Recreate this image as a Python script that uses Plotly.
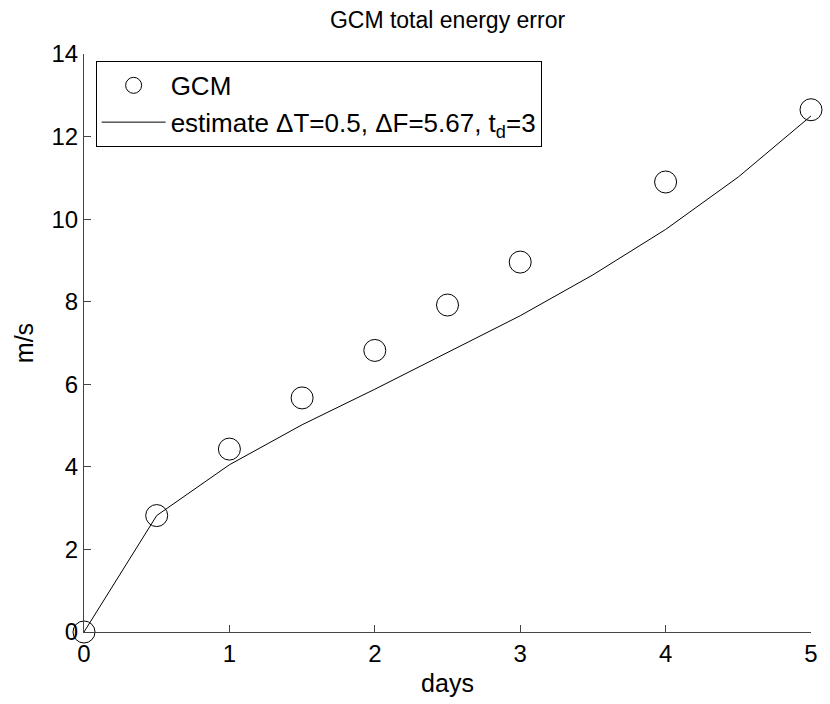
import plotly.graph_objects as go

gcm_days = [0, 0.5, 1, 1.5, 2, 2.5, 3, 4, 5]
gcm_vals = [0, 2.82, 4.43, 5.67, 6.82, 7.92, 8.96, 10.9, 12.65]

est_days = [0, 0.5, 1, 1.5, 2, 2.5, 3, 3.5, 4, 4.5, 5]
est_vals = [0, 2.82, 4.05, 5.02, 5.88, 6.77, 7.66, 8.65, 9.75, 11.02, 12.5]

x_ticks = [0, 1, 2, 3, 4, 5]
y_ticks = [0, 2, 4, 6, 8, 10, 12, 14]

FONT = "Liberation Sans, Arial, Helvetica, sans-serif"

fig = go.Figure()
fig.add_trace(go.Scatter(
    x=gcm_days, y=gcm_vals, mode="markers", name="GCM", cliponaxis=False,
    marker=dict(symbol="circle-open", size=22, color="black", line=dict(width=1, color="black")),
))
fig.add_trace(go.Scatter(
    x=est_days, y=est_vals, mode="lines", cliponaxis=False,
    name="estimate \u0394T=0.5, \u0394F=5.67, t<sub>d</sub>=3",
    line=dict(color="black", width=1),
))

axis_common = dict(
    showgrid=False, zeroline=False, showline=True, linecolor="#444", linewidth=1,
    ticks="inside", ticklen=7, tickcolor="#444", tickwidth=1,
    tickfont=dict(size=24, color="black", family=FONT), mirror=False,
)

fig.update_layout(
    width=830, height=704,
    margin=dict(l=84, r=13, t=54, b=72),
    paper_bgcolor="white", plot_bgcolor="white",
    font=dict(family=FONT, color="black", size=24),
    title=dict(text="GCM total energy error", x=0.5, xref="paper", y=1 - 20 / 704,
               yanchor="middle", xanchor="center", font=dict(size=23, family=FONT, color="black")),
    xaxis=dict(range=[0, 5], tickvals=x_ticks, title=dict(text="days", standoff=8,
               font=dict(size=25, family=FONT)), **axis_common),
    yaxis=dict(range=[0, 14], tickvals=y_ticks, title=dict(text="m/s", standoff=10,
               font=dict(size=25, family=FONT)), **axis_common),
    legend=dict(x=0.016, y=0.988, xanchor="left", yanchor="top", bordercolor="black",
                borderwidth=1, bgcolor="white", font=dict(size=26, family=FONT),
                itemwidth=64, tracegroupgap=0),
    showlegend=True,
)

fig.write_html("out.html")
